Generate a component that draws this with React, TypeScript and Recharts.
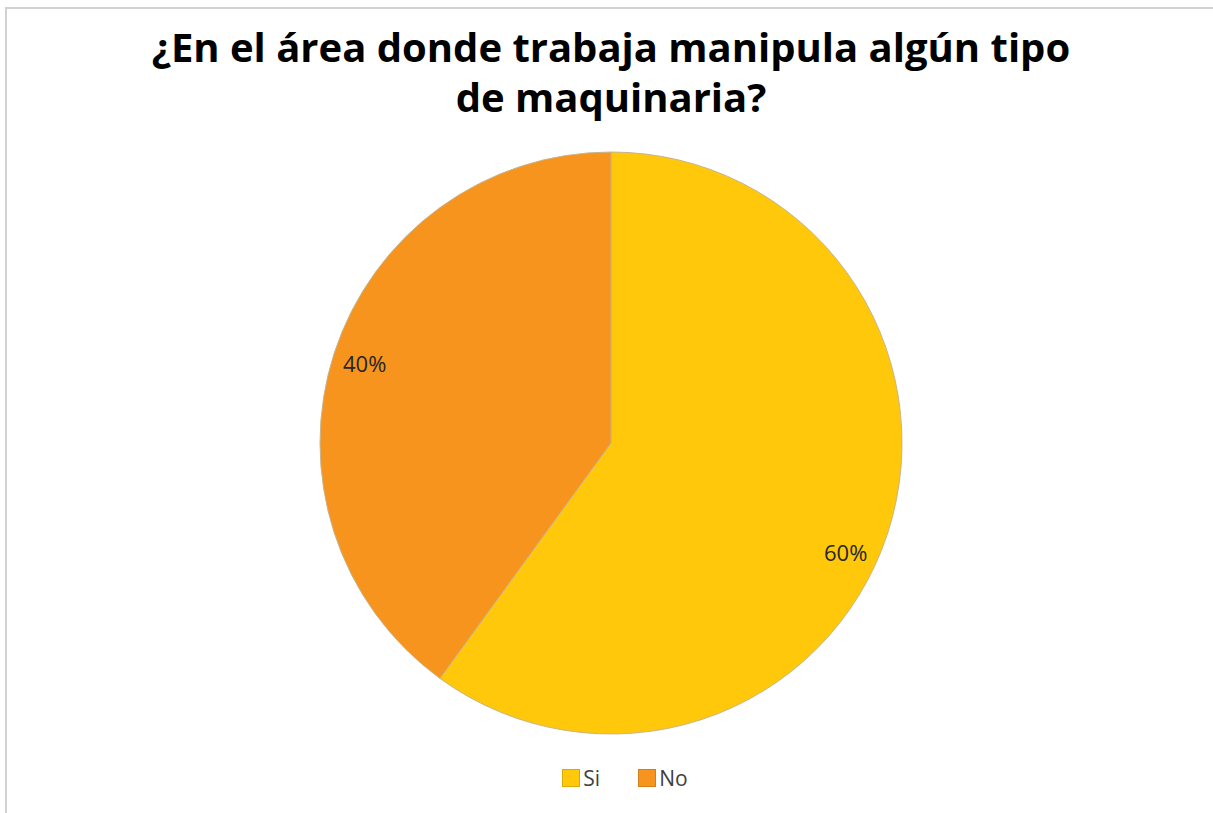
import { PieChart, Pie, Cell } from 'recharts';

const categories = ['Si', 'No'];
const percentages = [60, 40];
const sliceColors = ['#FFC80B', '#F7941E'];

const TITLE_LINES = ['¿En el área donde trabaja manipula algún tipo', 'de maquinaria?'];

// Excel's "best fit" nudges the Si label a little below the slice middle
const LABEL_ANGLE_NUDGE: Record<string, number> = { Si: -7, No: 0 };

const FONT = '"Open Sans", "Liberation Sans", sans-serif';
const RADIAN = Math.PI / 180;

const chartData = categories.map((name, i) => ({ name, value: percentages[i] }));

const renderLabel = ({ cx, cy, midAngle, outerRadius, name, value }: any) => {
  const angle = midAngle + (LABEL_ANGLE_NUDGE[name] ?? 0);
  const r = outerRadius * 0.89;
  const x = cx + r * Math.cos(-angle * RADIAN);
  const y = cy + r * Math.sin(-angle * RADIAN);
  return (
    <text
      x={x}
      y={y}
      textAnchor="middle"
      dominantBaseline="central"
      fill="#262626"
      fontSize={22}
      fontFamily={FONT}
    >
      {value}%
    </text>
  );
};

function ChartLegend() {
  return (
    <div
      style={{
        position: 'absolute',
        left: 0,
        top: 764,
        width: 1250,
        display: 'flex',
        justifyContent: 'center',
        gap: 38,
        fontSize: 21,
        color: '#404040',
      }}
    >
      {categories.map((name, i) => (
        <div key={name} style={{ display: 'flex', alignItems: 'center', gap: 3 }}>
          <span
            style={{
              display: 'inline-block',
              width: 18,
              height: 18,
              background: sliceColors[i],
              border: '1px solid rgba(0,0,0,0.15)',
              boxSizing: 'border-box',
            }}
          />
          <span>{name}</span>
        </div>
      ))}
    </div>
  );
}

export default function App() {
  return (
    <div
      style={{
        position: 'absolute',
        left: 0,
        top: 0,
        width: 1213,
        height: 813,
        overflow: 'hidden',
        background: '#fff',
        fontFamily: FONT,
      }}
    >
      <div
        style={{
          position: 'absolute',
          left: 5,
          top: 7,
          width: 1230,
          height: 830,
          border: '2px solid #d2d2d2',
        }}
      />
      <div
        style={{
          position: 'absolute',
          left: 0,
          top: 22,
          width: 1222,
          textAlign: 'center',
          fontWeight: 700,
          fontSize: 40,
          lineHeight: '50px',
          color: '#000',
        }}
      >
        {TITLE_LINES.map((line) => (
          <div key={line}>{line}</div>
        ))}
      </div>
      <div style={{ position: 'absolute', left: 0, top: 0 }}>
        <PieChart width={1213} height={813} margin={{ top: 0, right: 0, bottom: 0, left: 0 }}>
          <Pie
            data={chartData}
            dataKey="value"
            nameKey="name"
            cx={611}
            cy={443}
            outerRadius={291}
            startAngle={90}
            endAngle={-270}
            stroke="#c8b48a"
            strokeWidth={1}
            label={renderLabel}
            labelLine={false}
            isAnimationActive={false}
          >
            {chartData.map((d, i) => (
              <Cell key={d.name} fill={sliceColors[i]} />
            ))}
          </Pie>
        </PieChart>
      </div>
      <ChartLegend />
    </div>
  );
}
